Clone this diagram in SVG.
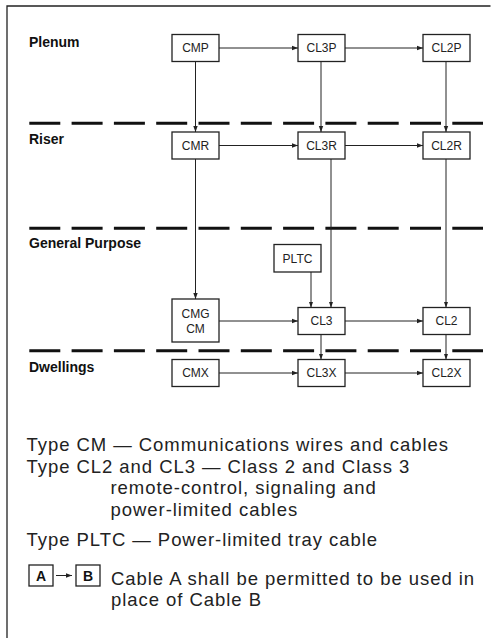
<svg xmlns="http://www.w3.org/2000/svg" width="498" height="638" viewBox="0 0 498 638">
<style>
.frame{fill:none;stroke:#222;stroke-width:1.3}
.box{fill:#fff;stroke:#222;stroke-width:1.3}
.lbl{font-family:"Liberation Sans",Arial,sans-serif;font-size:12px;fill:#222;text-anchor:middle}
.head{font-family:"Liberation Sans",Arial,sans-serif;font-size:14px;font-weight:bold;fill:#111}
.zone{stroke:#111;stroke-width:3;stroke-dasharray:31 11.3;fill:none}
.con{stroke:#222;stroke-width:1;fill:none;marker-end:url(#ah)}
.leg{font-family:"Liberation Sans",Arial,sans-serif;font-size:18.5px;letter-spacing:0.95px;fill:#222}
.legb{font-family:"Liberation Sans",Arial,sans-serif;font-size:14px;font-weight:bold;fill:#111;text-anchor:middle}
</style>
<defs>
<marker id="ah" viewBox="0 0 6 6" refX="6" refY="3" markerWidth="6" markerHeight="6" markerUnits="userSpaceOnUse" orient="auto">
<path d="M0,0.8 L6,3 L0,5.2 Z" fill="#222"/>
</marker>
</defs>
<rect width="498" height="638" fill="#fff"/>
<path class="frame" d="M7,638 V6 H490.5"/>
<g id="zones">
<line class="zone" x1="29.3" y1="123.3" x2="483" y2="123.3"/>
<line class="zone" x1="29.3" y1="228.3" x2="483" y2="228.3"/>
<line class="zone" x1="29.3" y1="350.7" x2="483" y2="350.7"/>
</g>
<g id="headings">
<text class="head" x="29" y="47">Plenum</text>
<text class="head" x="29" y="144">Riser</text>
<text class="head" x="29" y="248">General Purpose</text>
<text class="head" x="29" y="372">Dwellings</text>
</g>
<g id="connectors">
<line class="con" x1="219" y1="48" x2="298" y2="48"/>
<line class="con" x1="345" y1="48" x2="423" y2="48"/>
<line class="con" x1="195.5" y1="61.5" x2="195.5" y2="132"/>
<line class="con" x1="321" y1="61.5" x2="321" y2="132"/>
<line class="con" x1="446" y1="61.5" x2="446" y2="132"/>
<line class="con" x1="219" y1="145.5" x2="298" y2="145.5"/>
<line class="con" x1="345" y1="145.5" x2="423" y2="145.5"/>
<line class="con" x1="195.5" y1="159" x2="195.5" y2="299"/>
<line class="con" x1="331" y1="159" x2="331" y2="307.5"/>
<line class="con" x1="446" y1="159" x2="446" y2="307.5"/>
<line class="con" x1="311" y1="272" x2="311" y2="307.5"/>
<line class="con" x1="219" y1="321" x2="298" y2="321"/>
<line class="con" x1="345" y1="321" x2="423" y2="321"/>
<line class="con" x1="321" y1="334.5" x2="321" y2="359.5"/>
<line class="con" x1="446" y1="334.5" x2="446" y2="359.5"/>
<line class="con" x1="219" y1="373" x2="298" y2="373"/>
<line class="con" x1="345" y1="373" x2="423" y2="373"/>
</g>
<g id="CMP"><rect class="box" x="172" y="34.5" width="47" height="27"/><text class="lbl" x="195.5" y="52.3">CMP</text></g>
<g id="CL3P"><rect class="box" x="298" y="34.5" width="47" height="27"/><text class="lbl" x="321.5" y="52.3">CL3P</text></g>
<g id="CL2P"><rect class="box" x="423" y="34.5" width="47" height="27"/><text class="lbl" x="446.5" y="52.3">CL2P</text></g>
<g id="CMR"><rect class="box" x="172" y="132" width="47" height="27"/><text class="lbl" x="195.5" y="149.8">CMR</text></g>
<g id="CL3R"><rect class="box" x="298" y="132" width="47" height="27"/><text class="lbl" x="321.5" y="149.8">CL3R</text></g>
<g id="CL2R"><rect class="box" x="423" y="132" width="47" height="27"/><text class="lbl" x="446.5" y="149.8">CL2R</text></g>
<g id="PLTC"><rect class="box" x="274" y="244.5" width="47" height="27.5"/><text class="lbl" x="297.5" y="262.5">PLTC</text></g>
<g id="CMG"><rect class="box" x="172" y="299" width="47" height="43"/><text class="lbl" x="195.5" y="317.7">CMG</text><text class="lbl" x="195.5" y="333.3">CM</text></g>
<g id="CL3"><rect class="box" x="298" y="307.5" width="47" height="27"/><text class="lbl" x="321.5" y="325.3">CL3</text></g>
<g id="CL2"><rect class="box" x="423" y="307.5" width="47" height="27"/><text class="lbl" x="446.5" y="325.3">CL2</text></g>
<g id="CMX"><rect class="box" x="172" y="359.5" width="47" height="27"/><text class="lbl" x="195.5" y="377.3">CMX</text></g>
<g id="CL3X"><rect class="box" x="298" y="359.5" width="47" height="27"/><text class="lbl" x="321.5" y="377.3">CL3X</text></g>
<g id="CL2X"><rect class="box" x="423" y="359.5" width="47" height="27"/><text class="lbl" x="446.5" y="377.3">CL2X</text></g>
<g id="legend">
<text class="leg" x="26.5" y="450.5">Type CM — Communications wires and cables</text>
<text class="leg" x="26.5" y="472.5">Type CL2 and CL3 — Class 2 and Class 3</text>
<text class="leg" x="110.5" y="494">remote-control, signaling and</text>
<text class="leg" x="110.5" y="515.5">power-limited cables</text>
<text class="leg" x="26.5" y="546">Type PLTC — Power-limited tray cable</text>
<rect class="box" x="29" y="565" width="24" height="21"/><text class="legb" x="41" y="580.5">A</text>
<line class="con" x1="56" y1="575.5" x2="72" y2="575.5"/>
<rect class="box" x="76" y="565" width="24" height="21"/><text class="legb" x="88" y="580.5">B</text>
<text class="leg" x="111" y="584.5">Cable A shall be permitted to be used in</text>
<text class="leg" x="111" y="605.5">place of Cable B</text>
</g>
</svg>
